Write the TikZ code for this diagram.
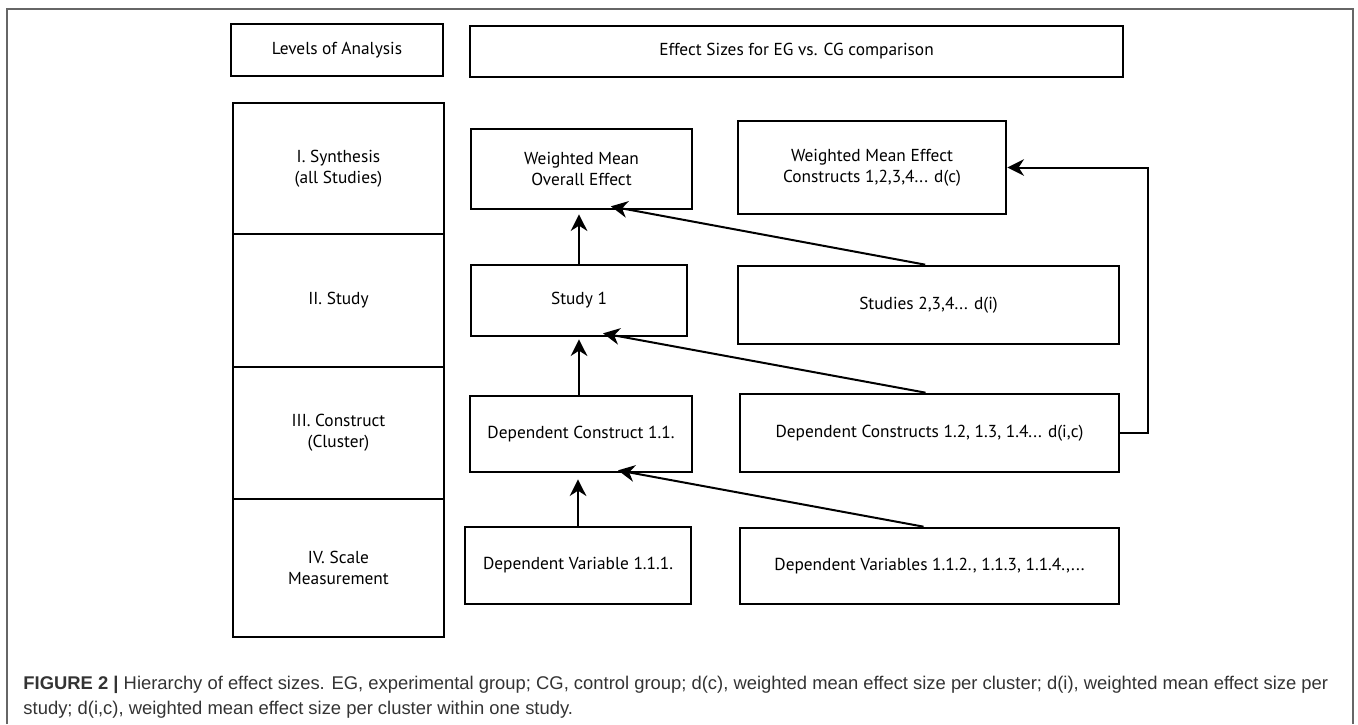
\documentclass[tikz,border=0pt]{standalone}
\usepackage{fontspec}
\setmainfont{PT Sans}
\newfontfamily\capfont{Liberation Sans}
\usetikzlibrary{arrows.meta}

\tikzset{every picture/.style={line width=0.75pt}}
\tikzset{
  lvlbox/.style={draw, line width=2pt, align=center, inner sep=0pt,
    font=\fontsize{13}{15.75}\selectfont},
  conn/.style={line width=1.5pt, -{Stealth[length=12.5pt,width=12.5pt,inset=4pt]}},
  capline/.style={anchor=base west, inner sep=0pt, text=black!80,
    font=\capfont\fontsize{13.8}{19}\selectfont},
}

\begin{document}
\begin{tikzpicture}[x=0.75pt,y=0.75pt,yscale=-1,xscale=1]
	\useasboundingbox (0,0) rectangle (1358,724);
	
	%Shape: Frame
	\draw [color=black!60, line width=1.5pt] (7,724) -- (7,9) -- (1353,9) -- (1353,724) ;
	
	%Shape: Rectangle (headers)
	\node [lvlbox, minimum width=159pt, minimum height=39pt] (levels) at (337,50) {Levels of Analysis};
	\node [lvlbox, minimum width=489.75pt, minimum height=38.25pt] (sizes) at (796.5,51.5) {Effect Sizes for EG vs. CG comparison};
	
	%Shape: Rectangle (levels column)
	\node [lvlbox, minimum width=158.25pt, minimum height=98.25pt] (synth) at (338.5,168.5) {I. Synthesis\\(all Studies)};
	\node [lvlbox, minimum width=158.25pt, minimum height=99.75pt] (study) at (338.5,300.5) {II. Study};
	\node [lvlbox, minimum width=158.25pt, minimum height=99pt] (constr) at (338.5,433) {III. Construct\\(Cluster)};
	\node [lvlbox, minimum width=158.25pt, minimum height=103.5pt] (scale) at (338.5,568) {IV. Scale\\Measurement};
	
	%Shape: Rectangle (effect sizes)
	\node [lvlbox, minimum width=165.75pt, minimum height=60pt] (wmoe) at (581.5,169) {Weighted Mean\\Overall Effect};
	\node [lvlbox, minimum width=201pt, minimum height=69.75pt] (wmec) at (872,167.5) {Weighted Mean Effect\\Constructs 1,2,3,4... d(c)};
	\node [lvlbox, minimum width=162pt, minimum height=53.25pt] (st1) at (579,300.5) {Study 1};
	\node [lvlbox, minimum width=285.75pt, minimum height=58.5pt] (stn) at (928.5,305) {Studies 2,3,4... d(i)};
	\node [lvlbox, minimum width=166.5pt, minimum height=57pt] (dc1) at (581,434) {Dependent Construct 1.1.};
	\node [lvlbox, minimum width=284.25pt, minimum height=58.5pt] (dcn) at (929.5,433) {Dependent Constructs 1.2, 1.3, 1.4... d(i,c)};
	\node [lvlbox, minimum width=169.5pt, minimum height=57.75pt] (dv1) at (578,565.5) {Dependent Variable 1.1.1.};
	\node [lvlbox, minimum width=284.25pt, minimum height=57pt] (dvn) at (929.5,566) {Dependent Variables 1.1.2., 1.1.3, 1.1.4.,...};
	
	%Straight Lines
	\draw [conn, shorten >=3pt] (st1.north) -- (st1.north |- wmoe.south) ;
	\draw [conn] ([xshift=-2.5pt]stn.north) -- ([xshift=22pt,yshift=-3pt]wmoe.south) ;
	\draw [conn, shorten >=1.5pt] (st1.south |- dc1.north) -- (st1.south) ;
	\draw [conn] ([xshift=-3pt]dcn.north) -- ([xshift=18pt,yshift=-3pt]st1.south) ;
	\draw [conn, shorten >=4.5pt] (dv1.north) -- (dv1.north |- dc1.south) ;
	\draw [conn] ([xshift=-4.5pt]dvn.north) -- ([xshift=27.75pt,yshift=-2.25pt]dc1.south) ;
	
	%Elbow Line
	\draw [conn] (dcn.east) -- ++(28,0) |- (wmec.east) ;
	
	% Text Node (caption)
	\node [capline] (cap1) at (23,689) {\textbf{FIGURE 2 |} Hierarchy of effect sizes. EG, experimental group; CG, control group; d(c), weighted mean effect size per cluster; d(i), weighted mean effect size per};
	\node [capline] (cap2) at (23,714) {study; d(i,c), weighted mean effect size per cluster within one study.};
	
\end{tikzpicture}
\end{document}
